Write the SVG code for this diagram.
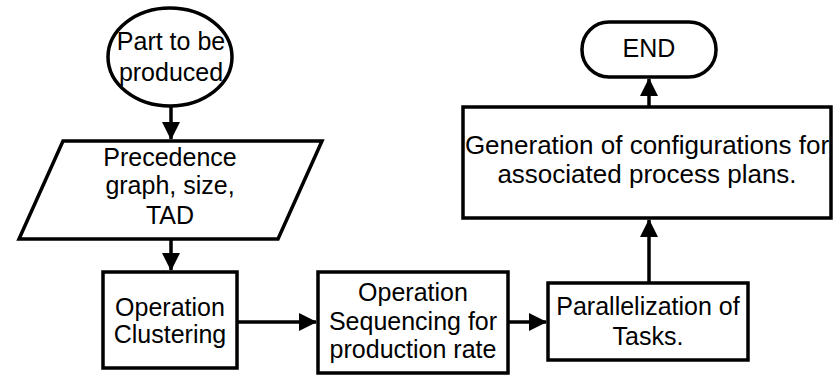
<svg xmlns="http://www.w3.org/2000/svg" width="833" height="375" viewBox="0 0 833 375">
  <style>
    .shape { fill: #ffffff; stroke: #000000; stroke-width: 3.5; }
    .link { fill: none; stroke: #000000; stroke-width: 3.5; }
    text { font-family: "Liberation Sans", Arial, sans-serif; font-size: 25px; fill: #000000; text-anchor: middle; }
    .big { font-size: 26px; }
  </style>
  <defs>
    <marker id="arrow" markerUnits="userSpaceOnUse" markerWidth="18" markerHeight="18" refX="17" refY="9" orient="auto">
      <path d="M0,0 L18,9 L0,18 Z" fill="#000000"/>
    </marker>
  </defs>
  <rect width="833" height="375" fill="#ffffff"/>

  <g id="connectors">
    <line class="link" x1="171" y1="106" x2="171" y2="139" marker-end="url(#arrow)"/>
    <line class="link" x1="171" y1="240" x2="171" y2="270" marker-end="url(#arrow)"/>
    <line class="link" x1="237" y1="322" x2="316" y2="322" marker-end="url(#arrow)"/>
    <line class="link" x1="508" y1="322" x2="546" y2="322" marker-end="url(#arrow)"/>
    <line class="link" x1="649" y1="283" x2="649" y2="220" marker-end="url(#arrow)"/>
    <line class="link" x1="649" y1="107" x2="649" y2="79" marker-end="url(#arrow)"/>
  </g>

  <g id="start">
    <ellipse class="shape" cx="170" cy="57" rx="62" ry="49"/>
    <text x="171" y="50">Part to be</text>
    <text x="171" y="81">produced</text>
  </g>

  <g id="input">
    <polygon class="shape" points="63,141 322,141 278,239 19,239"/>
    <text x="170" y="166">Precedence</text>
    <text x="170" y="194">graph, size,</text>
    <text x="170" y="224">TAD</text>
  </g>

  <g id="clustering">
    <rect class="shape" x="103" y="272" width="134" height="96"/>
    <text x="170" y="316">Operation</text>
    <text x="170" y="343">Clustering</text>
  </g>

  <g id="sequencing">
    <rect class="shape" x="318" y="272" width="190" height="101"/>
    <text x="413" y="301">Operation</text>
    <text x="413" y="330">Sequencing for</text>
    <text x="413" y="358">production rate</text>
  </g>

  <g id="parallelization">
    <rect class="shape" x="548" y="283" width="200" height="77"/>
    <text x="648" y="315">Parallelization of</text>
    <text x="648" y="345">Tasks.</text>
  </g>

  <g id="generation">
    <rect class="shape" x="463" y="107" width="368" height="111"/>
    <text class="big" x="647" y="154">Generation of configurations for</text>
    <text class="big" x="647" y="183">associated process plans.</text>
  </g>

  <g id="end">
    <rect class="shape" x="582" y="22" width="134" height="55" rx="27" ry="27"/>
    <text x="649" y="57">END</text>
  </g>
</svg>
